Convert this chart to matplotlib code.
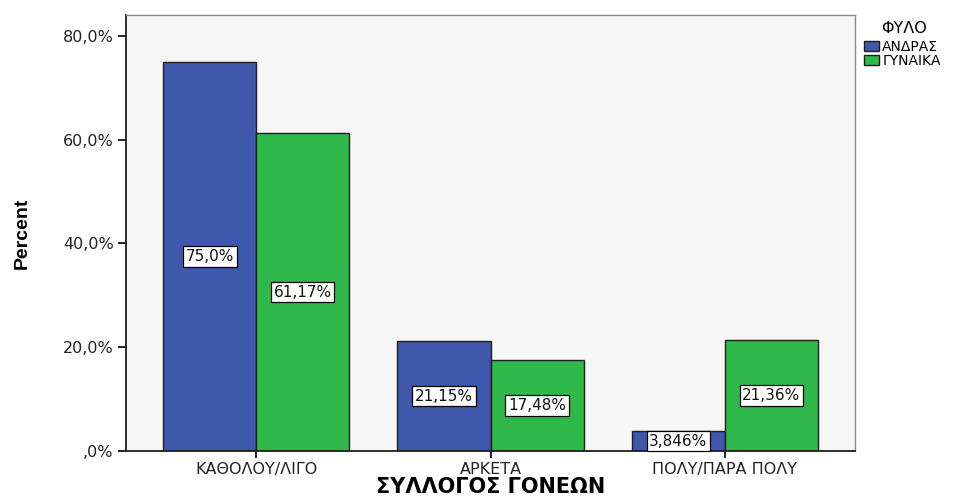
import matplotlib
matplotlib.use("Agg")
import matplotlib.pyplot as plt
import numpy as np
from matplotlib.ticker import FuncFormatter

plt.rcParams['font.family'] = ['DejaVu Sans']

categories = ["ΚΑΘΟΛΟΥ/ΛΙΓΟ", "ΑΡΚΕΤΑ", "ΠΟΛΥ/ΠΑΡΑ ΠΟΛΥ"]
series_names = ["ΑΝΔΡΑΣ", "ΓΥΝΑΙΚΑ"]
men = [75.0, 21.15, 3.846]
women = [61.17, 17.48, 21.36]
men_labels = ["75,0%", "21,15%", "3,846%"]
women_labels = ["61,17%", "17,48%", "21,36%"]
colors = ["#3F58AC", "#2EB94A"]

fig = plt.figure(figsize=(9.71, 4.96), dpi=100)
ax = fig.add_axes([126/971, 1-451/496, (855-126)/971, (451-15)/496])
ax.set_facecolor("#F6F6F6")

x = np.arange(len(categories))
w = 0.397
b1 = ax.bar(x - w/2, men, w, color=colors[0], edgecolor="#1e1e1e", linewidth=1.0, label=series_names[0])
b2 = ax.bar(x + w/2, women, w, color=colors[1], edgecolor="#1e1e1e", linewidth=1.0, label=series_names[1])

for bars, labs in ((b1, men_labels), (b2, women_labels)):
    for r, t in zip(bars, labs):
        ax.text(r.get_x() + r.get_width()/2, r.get_height()/2, t, ha="center", va="center",
                fontsize=11, color="#111111",
                bbox=dict(boxstyle="square,pad=0.18", facecolor="white", edgecolor="black", linewidth=0.9))

ax.set_xlim(-0.555, 2.555)
ax.set_ylim(0, 84.0)
ax.set_yticks([0, 20, 40, 60, 80])
ax.yaxis.set_major_formatter(FuncFormatter(lambda v, p: ",0%" if v == 0 else f"{v:.1f}%".replace(".", ",")))
ax.set_xticks(x)
ax.set_xticklabels(categories, fontsize=11.5, color="#222222")
ax.tick_params(axis="y", labelsize=11.5, length=6, width=1.2, direction="out", pad=3, labelcolor="#222222")
ax.tick_params(axis="x", length=5, width=1.2, direction="out", pad=3)
for s in ("left", "bottom"):
    ax.spines[s].set_color("#1e1e1e")
    ax.spines[s].set_linewidth(1.3)
for s in ("top", "right"):
    ax.spines[s].set_color("#8a8a8a")
    ax.spines[s].set_linewidth(1.0)

ax.set_ylabel("Percent", fontsize=14, fontweight="bold",
              family=["Liberation Sans Narrow", "Liberation Sans", "DejaVu Sans"])
ax.yaxis.set_label_coords(-104/729, 0.5)
ax.yaxis.label.set_va("center")
ax.set_xlabel("ΣΥΛΛΟΓΟΣ ΓΟΝΕΩΝ", fontsize=15, fontweight="bold")
ax.xaxis.set_label_coords(0.5, -36/436)
ax.xaxis.label.set_va("center")

leg = fig.legend(handles=[b1, b2], labels=series_names, title="ΦΥΛΟ", loc="upper left",
                 bbox_to_anchor=(858/971, 1-15/496), frameon=False, fontsize=10,
                 title_fontsize=11.5, handlelength=1.1, handleheight=0.8, handletextpad=0.25,
                 labelspacing=0.0, borderaxespad=0)
leg._legend_box.align = "left"
leg._legend_box.sep = 3
leg.get_title().set_position((18, 0))

fig.savefig("out.png", dpi=100)
